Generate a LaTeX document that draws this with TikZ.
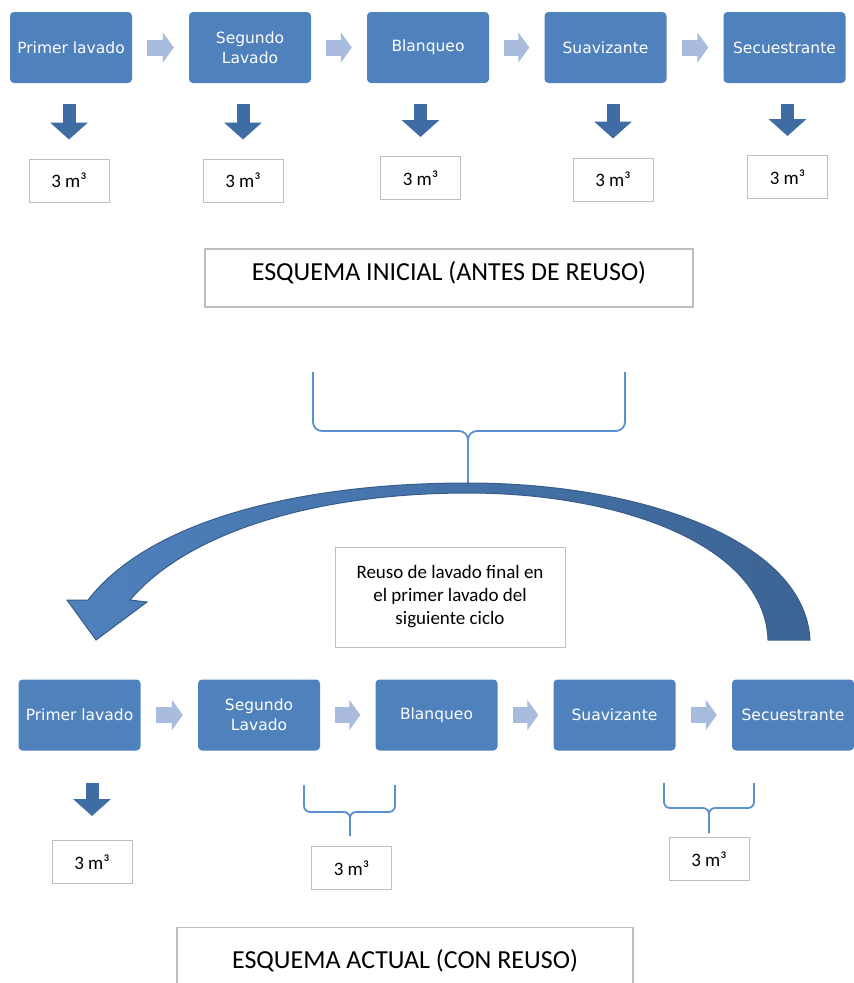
\documentclass[tikz,border=0pt]{standalone}
\usepackage{fontspec}
\setmainfont{Carlito}
\newfontfamily\stagefont{DejaVu Sans}
\usetikzlibrary{arrows.meta}
\definecolor{procblue}{HTML}{4F81BD}
\definecolor{flowgray}{HTML}{A9BCDD}
\definecolor{dropblue}{HTML}{3F6CA3}
\definecolor{bracecol}{HTML}{5A8FD0}
\definecolor{arcdark}{HTML}{3C6494}
\definecolor{arcedge}{HTML}{385D8A}
\definecolor{framegray}{HTML}{BFBFBF}
\begin{document}
\begin{tikzpicture}[x=1pt,y=-1pt]
	\tikzstyle{ST}=[rectangle,rounded corners=4pt,fill=procblue,text=white,minimum width=122pt,minimum height=71pt,align=center,inner sep=1pt,font=\stagefont\fontsize{15.5}{20}\selectfont]
	\tikzstyle{VOL}=[rectangle,draw=framegray,line width=1pt,minimum width=80pt,minimum height=43pt,font=\fontsize{19}{22}\selectfont]
	\tikzstyle{TIT}=[rectangle,draw=framegray,line width=1.2pt,font=\fontsize{26}{30}\selectfont]
	\tikzstyle{NOTE}=[rectangle,draw=framegray,line width=1pt,minimum width=230pt,minimum height=100pt,align=center,font=\fontsize{19}{23}\selectfont]
	\tikzstyle{flow}=[flowgray,line width=16pt,-{Triangle[length=11pt,width=30pt]},shorten <=15pt,shorten >=15pt]
	\tikzstyle{drop}=[dropblue,line width=13pt,-{Triangle[length=17pt,width=37pt]},shorten <=21pt,shorten >=19pt]
	\tikzstyle{brk}=[bracecol,line width=1.8pt,rounded corners=9pt]
	\useasboundingbox (0,0) rectangle (854,983);
	
	% esquema inicial
	\begin{scope}
	\node[ST] (p1) at (71,47.5)    {Primer lavado};
	\node[ST] (p2) at (250,47.5)   {Segundo\\Lavado};
	\node[ST] (p3) at (428,47.5)   {Blanqueo};
	\node[ST] (p4) at (605.5,47.5) {Suavizante};
	\node[ST] (p5) at (784.5,47.5) {Secuestrante};
	\node[VOL] (s1) at (69,180.5)  {3 m³};
	\node[VOL] (s2) at (243,180.5) {3 m³};
	\node[VOL] (s3) at (420.5,178) {3 m³};
	\node[VOL] (s4) at (613,179.5) {3 m³};
	\node[VOL] (s5) at (787.5,177) {3 m³};
	\node[TIT,minimum width=488pt,minimum height=58pt,text depth=14pt] (inicial) at (449,278) {ESQUEMA INICIAL (ANTES DE REUSO)};
	\end{scope}
	
	\path
	(p1) edge[flow] (p2)
	(p2) edge[flow] (p3)
	(p3) edge[flow] (p4)
	(p4) edge[flow] (p5)
	(s1.north |- p1.south) edge[drop] (s1.north)
	(s2.north |- p2.south) edge[drop] (s2.north)
	(s3.north |- p3.south) edge[drop] (s3.north)
	(s4.north |- p4.south) edge[drop] (s4.north)
	(s5.north |- p5.south) edge[drop] (s5.north)
	;
	
	% llave y flecha de reuso
	\coordinate (kl) at (313,372);
	\coordinate (kr) at (625,372);
	\coordinate (kt) at (468,484);
	\draw[brk] (kl) |- (kt |- 0,431) -- (kt);
	\draw[brk] (kr) |- (kt |- 0,431) -- (kt);
	\shade[left color=procblue,right color=arcdark,draw=arcedge,line width=1pt]
	(810,640) .. controls (805,540) and (640,483) .. (468,483)
	.. controls (300,483) and (150,520) .. (88,600)
	-- (67,600) -- (96,640) -- (147,602) -- (130,600)
	.. controls (190,530) and (320,493) .. (468,493)
	.. controls (620,493) and (765,545) .. (768,640) -- cycle;
	\node[NOTE] (nota) at (450,597) {Reuso de lavado final en\\el primer lavado del\\siguiente ciclo};
	
	% esquema actual
	\begin{scope}
	\node[ST] (q1) at (79.5,715)  {Primer lavado};
	\node[ST] (q2) at (259,715)   {Segundo\\Lavado};
	\node[ST] (q3) at (436.5,715) {Blanqueo};
	\node[ST] (q4) at (614.5,715) {Suavizante};
	\node[ST] (q5) at (793,715)   {Secuestrante};
	\node[VOL] (s6) at (92,862)    {3 m³};
	\node[VOL] (s7) at (351.5,868) {3 m³};
	\node[VOL] (s8) at (709,859)   {3 m³};
	\node[TIT,minimum width=456pt,minimum height=66pt,anchor=north] (actual) at (405,927) {ESQUEMA ACTUAL (CON REUSO)};
	\end{scope}
	
	\path
	(q1) edge[flow] (q2)
	(q2) edge[flow] (q3)
	(q3) edge[flow] (q4)
	(q4) edge[flow] (q5)
	(s6.north |- q1.south) edge[drop,shorten <=32pt,shorten >=24pt] (s6.north)
	;
	
	\coordinate (al) at (304,785);
	\coordinate (ar) at (395,785);
	\coordinate (at) at (350,836);
	\draw[brk,rounded corners=6pt] (al) |- (at |- 0,812) -- (at);
	\draw[brk,rounded corners=6pt] (ar) |- (at |- 0,812) -- (at);
	\coordinate (bl) at (664,783);
	\coordinate (br) at (754,783);
	\coordinate (bt) at (709,833);
	\draw[brk,rounded corners=6pt] (bl) |- (bt |- 0,808) -- (bt);
	\draw[brk,rounded corners=6pt] (br) |- (bt |- 0,808) -- (bt);
\end{tikzpicture}
\end{document}
